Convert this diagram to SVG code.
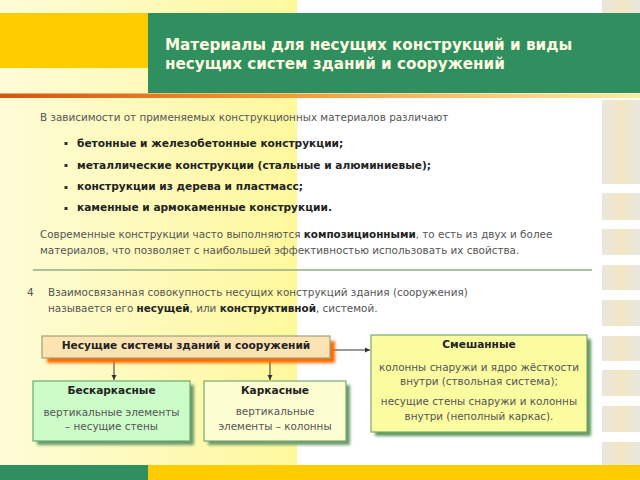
<svg xmlns="http://www.w3.org/2000/svg" width="640" height="480" viewBox="0 0 640 480">
<defs>
<linearGradient id="bgY" x1="0" y1="0" x2="1" y2="0">
<stop offset="0" stop-color="#fdfcd6"/>
<stop offset="1" stop-color="#fef89c"/>
</linearGradient>
<linearGradient id="stripe" x1="0" y1="0" x2="1" y2="0">
<stop offset="0" stop-color="#e9e6df"/>
<stop offset="0.5" stop-color="#f3e7c2"/>
<stop offset="1" stop-color="#e9e6df"/>
</linearGradient>
<linearGradient id="orangeLine" x1="0" y1="0" x2="1" y2="0">
<stop offset="0" stop-color="#d9530c"/>
<stop offset="0.45" stop-color="#f29a3a"/>
<stop offset="1" stop-color="#fbeea0"/>
</linearGradient>
<filter id="blur" x="-10%" y="-20%" width="120%" height="140%">
<feGaussianBlur stdDeviation="1.5"/>
</filter>
<marker id="arr" markerWidth="6" markerHeight="6" refX="5" refY="3" orient="auto" markerUnits="userSpaceOnUse">
<path d="M0,0.5 L5,3 L0,5.5 Z" fill="#333"/>
</marker>
<style>
.title{font-family:"DejaVu Sans",Verdana,sans-serif;font-weight:bold;font-size:15.2px;fill:#fffbe2}
.body{font-family:"DejaVu Sans",Verdana,sans-serif;font-size:10.4px;fill:#555}
.b{font-weight:bold;fill:#222}
.bul{font-family:"DejaVu Sans",Verdana,sans-serif;font-size:10.6px;font-weight:bold;fill:#222}
.bt{font-family:"DejaVu Sans",Verdana,sans-serif;font-size:10.6px;font-weight:bold;fill:#222;text-anchor:middle}
.bd{font-family:"DejaVu Sans",Verdana,sans-serif;font-size:10.4px;fill:#555;text-anchor:middle}
.conn{stroke:#333;stroke-width:1;fill:none}
</style>
</defs>

<!-- background -->
<rect x="0" y="0" width="640" height="480" fill="#ffffff"/>
<rect x="0" y="0" width="297" height="480" fill="url(#bgY)"/>
<g fill="url(#stripe)">
<rect x="602" y="0" width="38" height="13"/>
<rect x="602" y="100" width="38" height="84"/>
<rect x="602" y="193" width="38" height="27"/>
<rect x="602" y="229" width="38" height="26"/>
<rect x="602" y="265" width="38" height="25"/>
<rect x="602" y="300" width="38" height="26"/>
<rect x="602" y="336" width="38" height="25"/>
<rect x="602" y="370" width="38" height="26"/>
<rect x="602" y="406" width="38" height="26"/>
<rect x="602" y="442" width="38" height="23"/>
</g>

<!-- header -->
<rect x="0" y="13" width="148" height="55" fill="#ffcc00"/>
<rect x="148" y="13" width="492" height="80" fill="#2f8f5e"/>
<rect x="0" y="93.5" width="640" height="4.5" fill="url(#orangeLine)"/>
<text class="title" x="165" y="50">Материалы для несущих конструкций и виды</text>
<text class="title" x="165" y="69">несущих систем зданий и сооружений</text>

<!-- body text -->
<text class="body" x="40" y="121">В зависимости от применяемых конструкционных материалов различают</text>
<g fill="#333">
<rect x="64.5" y="142" width="3" height="3"/>
<rect x="64.5" y="164" width="3" height="3"/>
<rect x="64.5" y="186" width="3" height="3"/>
<rect x="64.5" y="207" width="3" height="3"/>
</g>
<text class="bul" x="77" y="147">бетонные и железобетонные конструкции;</text>
<text class="bul" x="77" y="169">металлические конструкции (стальные и алюминиевые);</text>
<text class="bul" x="77" y="190">конструкции из дерева и пластмасс;</text>
<text class="bul" x="77" y="211">каменные и армокаменные конструкции.</text>
<text class="body" x="40" y="238">Современные конструкции часто выполняются <tspan class="b">композиционными</tspan>, то есть из двух и более</text>
<text class="body" x="40" y="254">материалов, что позволяет с наибольшей эффективностью использовать их свойства.</text>
<line x1="33" y1="270" x2="592" y2="270" stroke="#8fae80" stroke-width="1.5"/>
<text class="body" x="27" y="296">4</text>
<text class="body" x="48" y="296">Взаимосвязанная совокупность несущих конструкций здания (сооружения)</text>
<text class="body" x="48" y="312">называется его <tspan class="b">несущей</tspan>, или <tspan class="b">конструктивной</tspan>, системой.</text>

<!-- connectors -->
<g id="connectors">
<line class="conn" x1="114" y1="358" x2="114" y2="380" marker-end="url(#arr)"/>
<line class="conn" x1="270" y1="358" x2="270" y2="380" marker-end="url(#arr)"/>
<line class="conn" x1="330" y1="350" x2="370" y2="350" marker-end="url(#arr)"/>
</g>

<!-- nodes -->
<g id="node-root">
<rect x="47" y="341" width="288" height="22" fill="#ff6a00" filter="url(#blur)"/>
<rect x="42" y="336" width="288" height="22" fill="#fde2b2" stroke="#9aa57c" stroke-width="1.2"/>
<text class="bt" x="186" y="348.5">Несущие системы зданий и сооружений</text>
</g>

<g id="node-beskarkas">
<rect x="37" y="385" width="157" height="60" fill="#6a9a6a" filter="url(#blur)"/>
<rect x="33" y="381" width="157" height="60" fill="#ccfcc8" stroke="#6aa873" stroke-width="1.2"/>
<text class="bt" x="111.5" y="393.5">Бескаркасные</text>
<text class="bd" x="111.5" y="416">вертикальные элементы</text>
<text class="bd" x="111.5" y="430">– несущие стены</text>
</g>

<g id="node-karkas">
<rect x="208" y="385" width="142" height="60" fill="#6a9a6a" filter="url(#blur)"/>
<rect x="204" y="381" width="142" height="60" fill="#fdfdd2" stroke="#7aa872" stroke-width="1.2"/>
<text class="bt" x="275" y="393.5">Каркасные</text>
<text class="bd" x="275" y="415">вертикальные</text>
<text class="bd" x="275" y="430">элементы – колонны</text>
</g>

<g id="node-mixed">
<rect x="375" y="339" width="216" height="97" fill="#5f9a5f" filter="url(#blur)"/>
<rect x="371" y="335" width="216" height="97" fill="#fbfca0" stroke="#7aa872" stroke-width="1.2"/>
<text class="bt" x="479" y="348">Смешанные</text>
<text class="bd" x="479" y="371">колонны снаружи и ядро жёсткости</text>
<text class="bd" x="479" y="385">внутри (ствольная система);</text>
<text class="bd" x="479" y="405">несущие стены снаружи и колонны</text>
<text class="bd" x="479" y="420">внутри (неполный каркас).</text>
</g>

<!-- footer -->
<rect x="0" y="465" width="148" height="15" fill="#2f8f5e"/>
<rect x="148" y="465" width="492" height="15" fill="#ffcc00"/>
</svg>
